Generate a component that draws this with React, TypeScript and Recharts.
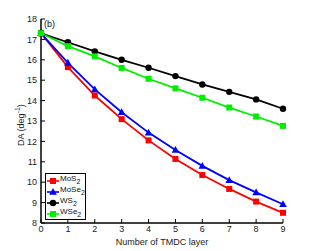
import React from "react";
import { LineChart, Line, XAxis, YAxis } from "recharts";

const layers = [0, 1, 2, 3, 4, 5, 6, 7, 8, 9];
const mos2 = [17.3, 15.64, 14.25, 13.09, 12.05, 11.14, 10.35, 9.67, 9.05, 8.5];
const mose2 = [17.3, 15.85, 14.55, 13.43, 12.43, 11.58, 10.8, 10.1, 9.5, 8.92];
const ws2 = [17.3, 16.86, 16.41, 16.0, 15.61, 15.2, 14.79, 14.43, 14.06, 13.6];
const wse2 = [17.3, 16.67, 16.17, 15.6, 15.07, 14.6, 14.14, 13.66, 13.22, 12.76];
const xTicks = [0, 1, 2, 3, 4, 5, 6, 7, 8, 9];
const yTicks = [8, 9, 10, 11, 12, 13, 14, 15, 16, 17, 18];

const series = [
  { key: "MoS", name: "MoS", color: "#ff0000", shape: "square" },
  { key: "MoSe", name: "MoSe", color: "#0000ff", shape: "triangle" },
  { key: "WS", name: "WS", color: "#000000", shape: "circle" },
  { key: "WSe", name: "WSe", color: "#00ee00", shape: "square" },
];

const data = layers.map((l, i) => ({
  layer: l,
  MoS: mos2[i],
  MoSe: mose2[i],
  WS: ws2[i],
  WSe: wse2[i],
}));

const FONT = "'Liberation Sans', Arial, sans-serif";

function Marker({ cx, cy, shape, color }: any) {
  if (cx == null || cy == null) return null;
  if (shape === "square") return <rect x={cx - 3} y={cy - 3} width={6} height={6} fill={color} />;
  if (shape === "triangle")
    return <polygon points={`${cx},${cy - 4} ${cx - 3.8},${cy + 2.8} ${cx + 3.8},${cy + 2.8}`} fill={color} />;
  return <circle cx={cx} cy={cy} r={3.2} fill={color} />;
}

function LegendBox() {
  return (
    <div
      style={{
        position: "absolute",
        left: 45,
        top: 173,
        border: "1px solid #000",
        background: "#fff",
        width: 41,
        height: 47,
        boxSizing: "border-box",
        paddingTop: 1,
        fontFamily: FONT,
        fontSize: 8,
        color: "#111",
      }}
    >
      {series.map((s) => (
        <div key={s.key} style={{ display: "flex", alignItems: "center", height: 11 }}>
          <svg width={14} height={10} style={{ flex: "none" }}>
            <line x1={1} x2={13} y1={5} y2={5} stroke={s.color} strokeWidth={1.6} />
            <Marker cx={7} cy={5} shape={s.shape} color={s.color} />
          </svg>
          <span style={{ lineHeight: "8px", position: "relative", top: -2 }}>
            {s.name}
            <span style={{ fontSize: 7, position: "relative", top: 3 }}>2</span>
          </span>
        </div>
      ))}
    </div>
  );
}

function YLabel({ viewBox }: any) {
  const cx = 24;
  const cy = viewBox.y + viewBox.height / 2 + 4;
  return (
    <text
      x={cx}
      y={cy}
      transform={`rotate(-90 ${cx} ${cy})`}
      textAnchor="middle"
      fontFamily={FONT}
      fontSize={9}
      fill="#222"
    >
      DA (deg
      <tspan dy={-4} fontSize={7}>-1</tspan>
      <tspan dy={4}>)</tspan>
    </text>
  );
}

export default function App() {
  const tickStyle = { fill: "#222", fontSize: 9, fontFamily: FONT };
  return (
    <div style={{ position: "absolute", left: 0, top: 0, width: 313, height: 251, background: "#fff" }}>
      <LineChart width={313} height={251} data={data} margin={{ top: 19, right: 30, bottom: 0, left: 0 }}>
        <XAxis
          xAxisId="b"
          dataKey="layer"
          type="number"
          domain={[0, 9]}
          ticks={xTicks}
          height={28}
          tick={tickStyle}
          tickSize={-4}
          tickMargin={7}
          axisLine={{ stroke: "#000", strokeWidth: 1.5 }}
          tickLine={{ stroke: "#000" }}
          label={{ value: "Number of TMDC layer", position: "insideBottom", offset: 6, fill: "#222", fontSize: 9, fontFamily: FONT }}
        />
        <XAxis
          xAxisId="t"
          orientation="top"
          dataKey="layer"
          type="number"
          domain={[0, 9]}
          ticks={xTicks}
          height={0}
          tickFormatter={() => ""}
          tickSize={-4}
          axisLine={{ stroke: "#000", strokeWidth: 1.5 }}
          tickLine={{ stroke: "#000" }}
        />
        <YAxis
          yAxisId="l"
          type="number"
          domain={[8, 18]}
          ticks={yTicks}
          width={41}
          tick={tickStyle}
          tickSize={-4}
          tickMargin={8}
          axisLine={{ stroke: "#000", strokeWidth: 1.5 }}
          tickLine={{ stroke: "#000" }}
          label={<YLabel />}
        />
        <YAxis
          yAxisId="r"
          orientation="right"
          type="number"
          domain={[8, 18]}
          ticks={yTicks}
          width={0}
          tickFormatter={() => ""}
          tickSize={-4}
          axisLine={{ stroke: "#000", strokeWidth: 1.5 }}
          tickLine={{ stroke: "#000" }}
        />
        {series.map((s) => (
          <Line
            key={s.key}
            xAxisId="b"
            yAxisId="l"
            dataKey={s.key}
            stroke={s.color}
            strokeWidth={1.8}
            isAnimationActive={false}
            dot={(p: any) => <Marker key={p.index} cx={p.cx} cy={p.cy} shape={s.shape} color={s.color} />}
            activeDot={false}
          />
        ))}
      </LineChart>
      <LegendBox />
      <div style={{ position: "absolute", left: 44, top: 19, fontFamily: FONT, fontSize: 9, color: "#111" }}>(b)</div>
    </div>
  );
}
